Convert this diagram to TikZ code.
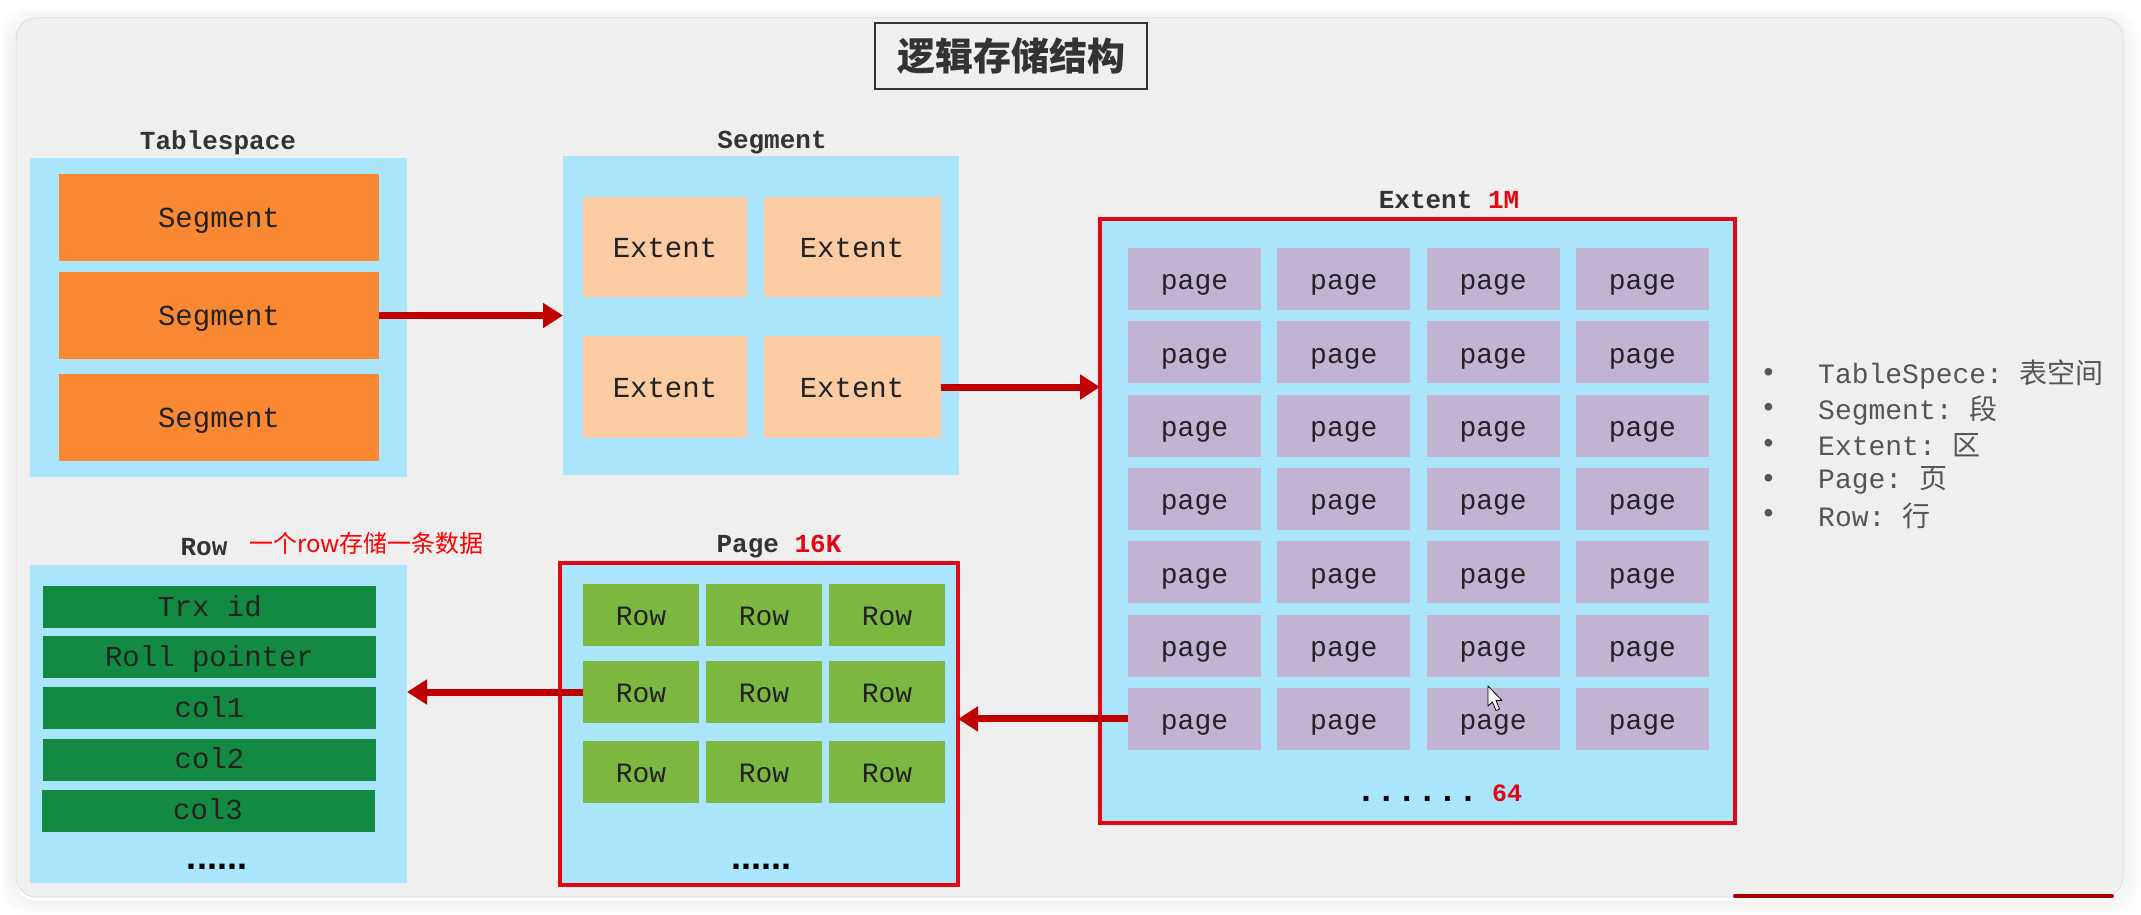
\documentclass[tikz,border=0pt]{standalone}
\usepackage{fontspec}
\setmonofont{Liberation Mono}
\newfontfamily\cjk{Noto Sans CJK SC}
\newfontfamily\dotfont{Liberation Sans}
\usetikzlibrary{arrows.meta}
\definecolor{panel}{HTML}{EFEFEF}
\definecolor{skyb}{HTML}{AAE5FC}
\definecolor{orng}{HTML}{FA8832}
\definecolor{peach}{HTML}{FBCBA4}
\definecolor{lilac}{HTML}{C3B3D3}
\definecolor{dgreen}{HTML}{138A42}
\definecolor{lgreen}{HTML}{7CB83F}
\definecolor{brd}{HTML}{E30613}
\definecolor{arr}{HTML}{C00000}
\definecolor{lbl}{HTML}{333333}
\definecolor{txt}{HTML}{555555}
\definecolor{ctxt}{HTML}{222222}
\newcommand\setfs[1]{\fontsize{#1}{#1}\selectfont}
\begin{document}
\begin{tikzpicture}[x=1pt,y=-1pt,
  box/.style={rectangle, inner sep=0pt, outer sep=0pt, anchor=center},
  wh/.style n args={2}{minimum width=#1pt, minimum height=#2pt},
  cell/.style={box, font=\ttfamily\setfs{29}, text=ctxt, text height=20pt, text depth=0pt},
  segcell/.style={cell, fill=orng, wh={320}{87}},
  extcell/.style={cell, fill=peach},
  pagecell/.style={cell, fill=lilac, wh={133}{62}, font=\ttfamily\setfs{28}, text height=21.5pt},
  rowcell/.style={cell, fill=lgreen, wh={116}{62}, font=\ttfamily\setfs{28}, text height=21pt},
  colcell/.style={cell, fill=dgreen, wh={333}{42}, text height=18pt},
  bluebox/.style={box, fill=skyb},
  redbox/.style={box, fill=skyb, draw=brd, line width=4pt},
  label/.style={font=\ttfamily\bfseries\setfs{26}, text=lbl, inner sep=0pt},
  dots/.style={font=\dotfont\bfseries\setfs{36}, text=black, inner sep=0pt, anchor=base},
  bul/.style={font=\ttfamily\setfs{28}, text=txt, inner sep=0pt, anchor=west},
  arrowst/.style={draw=arr, line width=7pt, -{Triangle[length=20pt, width=24pt]}}
]
\useasboundingbox[fill=white] (0,0) rectangle (2141,915);
% panel shadow
\foreach \i [evaluate=\i as \o using 0.05-0.0045*\i] in {1,...,10}
  \draw[rounded corners=22pt, line width=1.6pt, black, opacity=\o]
    ({16-1.5*\i},{18-1.2*\i+3}) rectangle ({2123+1.5*\i},{897+1.5*\i+3});
\draw[rounded corners=20pt, fill=panel, draw=black!12, line width=1pt] (16,18) rectangle (2123,897);
\draw[line width=4pt, draw=arr!85!black, line cap=round] (1735,896) -- (2112,896);

% title
\node[box, draw=lbl, line width=2pt, wh={272}{66}] (title) at (1011,56)
  {\cjk\bfseries\setfs{38}\color{lbl}逻辑存储结构};

% Tablespace
\node[label] (tsl) at (218,143) {Tablespace};
\node[bluebox, wh={377}{319}] (tsbox) at (218.5,317.5) {};
\node[segcell] (seg1) at (219,217.5) {Segment};
\node[segcell] (seg2) at (219,315.5) {Segment};
\node[segcell] (seg3) at (219,417.5) {Segment};

% Segment
\node[label] (sgl) at (772,143) {Segment};
\node[bluebox, wh={396}{319}] (sgbox) at (761,315.5) {};
\node[extcell, wh={164}{100}] (e11) at (665,247) {Extent};
\node[extcell, wh={177}{100}] (e12) at (852,247) {Extent};
\node[extcell, wh={164}{102}] (e21) at (665,387) {Extent};
\node[extcell, wh={177}{102}] (e22) at (852,387) {Extent};

% Extent
\node[label] (exl) at (1449,200) {Extent \textcolor{brd}{1M}};
\node[redbox, wh={635}{604}] (exbox) at (1417.5,521) {};
\foreach \r in {1,...,7}
  \foreach \c in {1,...,4}
    \node[pagecell] (p\r\c) at ({1194.5+149.3*(\c-1)},{279+73.33*(\r-1)}) {page};
\node[font=\ttfamily\bfseries\setfs{34}, inner sep=0pt, anchor=base] (exdots) at (1417,801) {......};
\node[font=\ttfamily\bfseries\setfs{25}, text=brd, inner sep=0pt, anchor=base] (ex64) at (1507,801) {64};

% cursor
\draw[fill=white, draw=black, line width=0.8pt, line join=round]
  (1488,686) -- (1488,706) -- (1492.5,702) -- (1496,710.5) -- (1499.5,709) -- (1496,700.5) -- (1502,700.5) -- cycle;

% legend
\foreach \t [count=\k] in {TableSpece: {\cjk 表空间},Segment: {\cjk 段},Extent: {\cjk 区},Page: {\cjk 页},Row: {\cjk 行}} {
  \node[bul] (bd\k) at (1760,{375+35.3*(\k-1)}) {•};
  \node[bul] (bt\k) at (1818,{375+35.3*(\k-1)}) {\t};
}

% Row
\node[label] (rwl) at (204,547) {Row};
\node[inner sep=0pt, anchor=west, text=red, font=\cjk\setfs{24}] (note) at (249,543) {一个row存储一条数据};
\node[bluebox, wh={377}{318}] (rwbox) at (218.5,724) {};
\node[colcell] (c1) at (209.5,607) {Trx id};
\node[colcell] (c2) at (209.5,657) {Roll pointer};
\node[colcell] (c3) at (209.5,708) {col1};
\node[colcell] (c4) at (209.5,759.5) {col2};
\node[colcell] (c5) at (208,810.5) {col3};
\node[dots] (rwdots) at (217,869) {......};

% Page
\node[label] (pgl) at (779,547) {Page \textcolor{brd}{16K}};
\node[redbox, wh={398}{322}] (pgbox) at (759,724) {};
\foreach \r/\y in {1/614.5,2/692,3/772}
  \foreach \c/\x in {1/641,2/764,3/887}
    \node[rowcell] (r\r\c) at (\x,\y) {Row};
\node[dots] (pgdots) at (761,869) {......};

% arrows
\draw[arrowst] (seg2.east) -- (sgbox.west);
\draw[arrowst] (e22.east) -- (exbox.west |- e22.east);
\draw[arrowst] (p71.west) -- (pgbox.east |- p71.west);
\draw[arrowst] (r21.west) -- (rwbox.east |- r21.west);
\end{tikzpicture}
\end{document}
